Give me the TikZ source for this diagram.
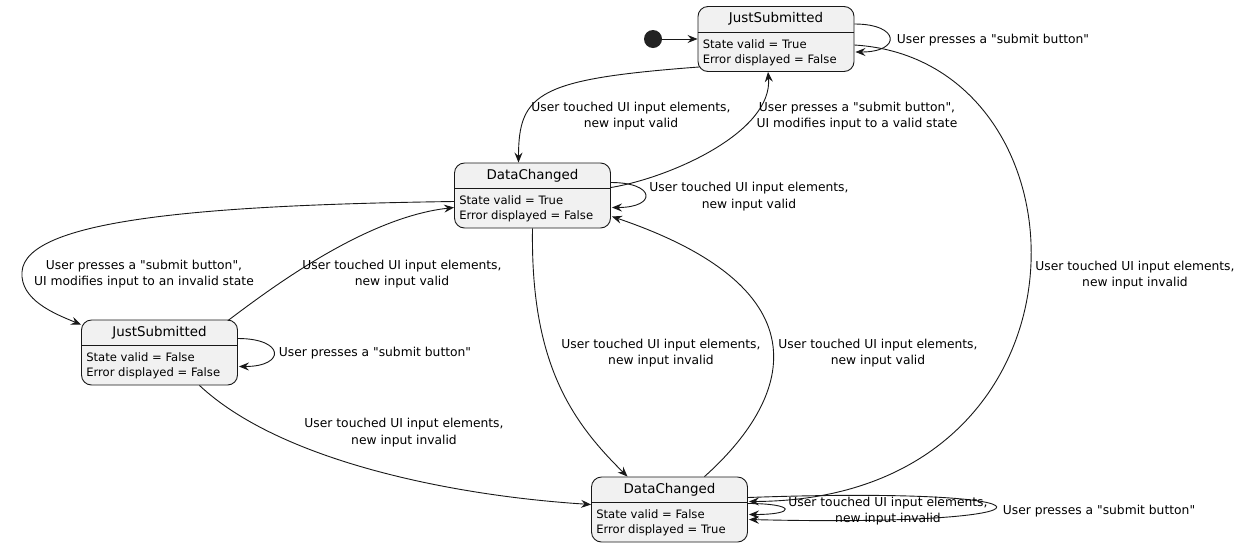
\documentclass[tikz,border=0pt]{standalone}
\usepackage{fontspec}
\setmainfont{DejaVu Sans}
\usetikzlibrary{arrows.meta,positioning,calc}
\definecolor{SmLine}{RGB}{24,24,24}
\definecolor{SmFill}{RGB}{241,241,241}
\definecolor{SmDot}{RGB}{34,34,34}
\tikzset{
  sm/box/.style={
    draw=SmLine,
    line width=0.9pt,
    rounded corners=10pt,
    fill=SmFill,
    inner sep=0pt,
    minimum width=156pt,
    minimum height=65pt
  },
  sm/title/.style={font=\fontsize{13.4}{16}\selectfont, inner sep=0pt, text=black},
  sm/body/.style={font=\fontsize{11.6}{15}\selectfont, align=left, anchor=west, inner sep=0pt, text=black},
  sm/sep/.style={draw=SmLine, line width=0.9pt},
  sm/start/.style={circle, fill=SmDot, inner sep=0pt, minimum size=18pt},
  sm/label/.style={font=\fontsize{12.3}{16.5}\selectfont, align=center, inner sep=0pt, text=black},
  sm/arrow/.style={-{Stealth[length=10pt,width=8pt,inset=3.5pt]}, line width=0.9pt, draw=SmLine}
}
\begin{document}
\begin{tikzpicture}[x=1pt,y=-1pt]
  \useasboundingbox[fill=white] (0,0) rectangle (1247,547);
  % states
  \node[sm/start] (start) at (653,39) {};
  \node[sm/box] (submitOk) at (776,39) {};
  \node[sm/title] (submitOkTitle) at ($(submitOk.north)+(0,13)$) {JustSubmitted};
  \draw[sm/sep] ($(submitOk.north west)+(0,26)$) -- ($(submitOk.north east)+(0,26)$);
  \node[sm/body] (submitOkTxt) at ($(submitOk.north west)+(5,46.5)$) {State valid = True\\Error displayed = False};
  \node[sm/box] (changedOk) at (532.5,195.5) {};
  \node[sm/title] (changedOkTitle) at ($(changedOk.north)+(0,13)$) {DataChanged};
  \draw[sm/sep] ($(changedOk.north west)+(0,26)$) -- ($(changedOk.north east)+(0,26)$);
  \node[sm/body] (changedOkTxt) at ($(changedOk.north west)+(5,46.5)$) {State valid = True\\Error displayed = False};
  \node[sm/box] (submitBad) at (159.5,352.5) {};
  \node[sm/title] (submitBadTitle) at ($(submitBad.north)+(0,13)$) {JustSubmitted};
  \draw[sm/sep] ($(submitBad.north west)+(0,26)$) -- ($(submitBad.north east)+(0,26)$);
  \node[sm/body] (submitBadTxt) at ($(submitBad.north west)+(5,46.5)$) {State valid = False\\Error displayed = False};
  \node[sm/box] (changedBad) at (669.5,509.5) {};
  \node[sm/title] (changedBadTitle) at ($(changedBad.north)+(0,13)$) {DataChanged};
  \draw[sm/sep] ($(changedBad.north west)+(0,26)$) -- ($(changedBad.north east)+(0,26)$);
  \node[sm/body] (changedBadTxt) at ($(changedBad.north west)+(5,46.5)$) {State valid = False\\Error displayed = True};

  % transitions
  \draw[sm/arrow] (start.east) -- (submitOk.west);
  \draw[sm/arrow] ($(submitOk.east)+(0,-15)$) .. controls +(46,0) and +(46,0) .. ($(submitOk.east)+(1,13)$);
  \draw[sm/arrow] ($(submitOk.south west)+(2,-5)$) .. controls +(-160,12) and +(0,-70) .. ($(changedOk.north)+(-14,0)$);
  \draw[sm/arrow] ($(changedOk.east)+(0,-8)$) .. controls +(60,-10) and +(5,60) .. ($(submitOk.south)+(-8,0)$);
  \draw[sm/arrow] ($(submitOk.east)+(0,6)$) .. controls (1100,60) and (1110,500) .. ($(changedBad.east)+(1,-8)$);
  \draw[sm/arrow] ($(changedOk.east)+(0,-13)$) .. controls +(45,0) and +(45,0) .. ($(changedOk.east)+(1,12)$);
  \draw[sm/arrow] ($(changedOk.west)+(0,6)$) .. controls (200,205) and (25,220) .. (22,272) .. controls (20,300) and (55,314) .. ($(submitBad.north west)+(0,5)$);
  \draw[sm/arrow] ($(submitBad.north east)+(-10,1)$) .. controls +(40,-30) and +(-90,10) .. ($(changedOk.west)+(0,12)$);
  \draw[sm/arrow] ($(submitBad.east)+(0,-14)$) .. controls +(47,0) and +(47,0) .. ($(submitBad.east)+(1,14)$);
  \draw[sm/arrow] ($(submitBad.south)+(40,0)$) .. controls +(80,75) and +(-141,-9) .. ($(changedBad.west)+(0,-5)$);
  \draw[sm/arrow] (changedOk.south) .. controls +(-2,132) and +(-58,-57) .. ($(changedBad.north)+(-42,0)$);
  \draw[sm/arrow] ($(changedBad.north)+(35,0)$) .. controls +(86,-77) and +(218,74) .. ($(changedOk.east)+(1,21)$);
  \draw[sm/arrow] ($(changedBad.east)+(0,-6)$) .. controls +(48,0) and +(48,0) .. ($(changedBad.east)+(1,5)$);
  \draw[sm/arrow] ($(changedBad.east)+(0,-12)$) .. controls +(330,-12) and +(330,8) .. ($(changedBad.east)+(1,10)$);

  % labels
  \node[sm/label] (lblOkLoop) at (993,40) {User presses a \textquotedbl submit button\textquotedbl};
  \node[sm/label] (lblOkToChanged) at (631,116) {User touched UI input elements,\\new input valid};
  \node[sm/label] (lblChangedToOk) at (857,116) {User presses a \textquotedbl submit button\textquotedbl,\\UI modifies input to a valid state};
  \node[sm/label] (lblOkToBad) at (1135,275) {User touched UI input elements,\\new input invalid};
  \node[sm/label] (lblChangedLoop) at (749,196.5) {User touched UI input elements,\\new input valid};
  \node[sm/label] (lblChangedToSubmitBad) at (144,274) {User presses a \textquotedbl submit button\textquotedbl,\\UI modifies input to an invalid state};
  \node[sm/label] (lblSubmitBadToChanged) at (402,274) {User touched UI input elements,\\new input valid};
  \node[sm/label] (lblSubmitBadLoop) at (375,353) {User presses a \textquotedbl submit button\textquotedbl};
  \node[sm/label] (lblSubmitBadToBad) at (404,432.5) {User touched UI input elements,\\new input invalid};
  \node[sm/label] (lblChangedToBad) at (661,353) {User touched UI input elements,\\new input invalid};
  \node[sm/label] (lblBadToChanged) at (878,353) {User touched UI input elements,\\new input valid};
  \node[sm/label] (lblBadLoop) at (888,511) {User touched UI input elements,\\new input invalid};
  \node[sm/label] (lblBadSubmitLoop) at (1099,511) {User presses a \textquotedbl submit button\textquotedbl};
\end{tikzpicture}
\end{document}
